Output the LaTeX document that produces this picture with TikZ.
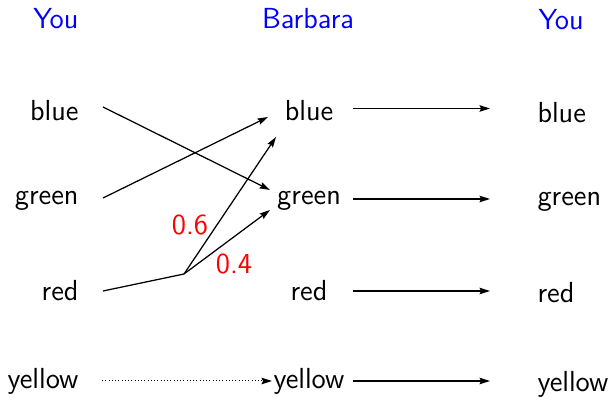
\documentclass[tikz,border=0pt]{standalone}
\usetikzlibrary{arrows.meta,calc}
\begin{document}
\begin{tikzpicture}[x=0.4pt,y=-0.4pt,
  every node/.style={font=\sffamily\fontsize{11.6}{13}\selectfont},
  txt/.style={inner sep=0pt},
  head/.style={txt,text={rgb,255:red,0;green,0;blue,255}},
  prob/.style={txt,text={rgb,255:red,255;green,0;blue,0}},
  conn/.style={line width=0.5pt,-{Stealth[length=4.2pt,width=2.6pt,inset=0.6pt]}},
  fine/.style={line width=0.4pt,dash pattern=on 0.3pt off 1pt},
  plain/.style={line width=0.5pt}]
\useasboundingbox (0,0) rectangle (611,397);
% headers
\node[head,anchor=east] (hL) at (79,19) {You};
\node[head] (hM) at (308,18.5) {Barbara};
\node[head,anchor=west] (hR) at (538,20) {You};
% left column
\node[txt,anchor=east] (lB) at (79,110.5) {blue};
\node[txt,anchor=east] (lG) at (79,200.5) {green};
\node[txt,anchor=east] (lR) at (79,291) {red};
\node[txt,anchor=east] (lY) at (79,381) {yellow};
% middle column
\node[txt] (mB) at (309,110.5) {blue};
\node[txt] (mG) at (309,200.5) {green};
\node[txt] (mR) at (309,291) {red};
\node[txt] (mY) at (309,381) {yellow};
% right column
\node[txt,anchor=west] (rB) at (537,112.5) {blue};
\node[txt,anchor=west] (rG) at (537,202) {green};
\node[txt,anchor=west] (rR) at (537,293) {red};
\node[txt,anchor=west] (rY) at (537,384) {yellow};
% hub
\coordinate (hub) at (184,274);
% crossing arrows
\draw[conn] ($(lB.east)+(24,-3.5)$) -- ($(mG.center)+(-39,-10.5)$);
\draw[conn] ($(lG.east)+(24,-2.5)$) -- ($(mB.center)+(-41,6.5)$);
\draw[plain] ($(lR.east)+(24,0)$) -- (hub);
\draw[conn] (hub) -- ($(mB.center)+(-33,26.5)$);
\draw[conn] (hub) -- ($(mG.center)+(-39,9.5)$);
\draw[conn,fine] ($(lY.east)+(23,0)$) -- ($(mY.center)+(-37,0)$);
% labels
\node[prob] (p6) at (190,225.5) {0.6};
\node[prob] (p4) at (234,264.5) {0.4};
% right arrows
\draw[conn] ($(mB.center)+(44,-2)$) -- ($(rB.west)+(-47,-4)$);
\draw[conn] ($(mG.center)+(44,-1.5)$) -- ($(rG.west)+(-47,-3)$);
\draw[conn] ($(mR.center)+(44,0)$) -- ($(rR.west)+(-47,-2)$);
\draw[conn] ($(mY.center)+(44,0)$) -- ($(rY.west)+(-47,-3)$);
\end{tikzpicture}
\end{document}
